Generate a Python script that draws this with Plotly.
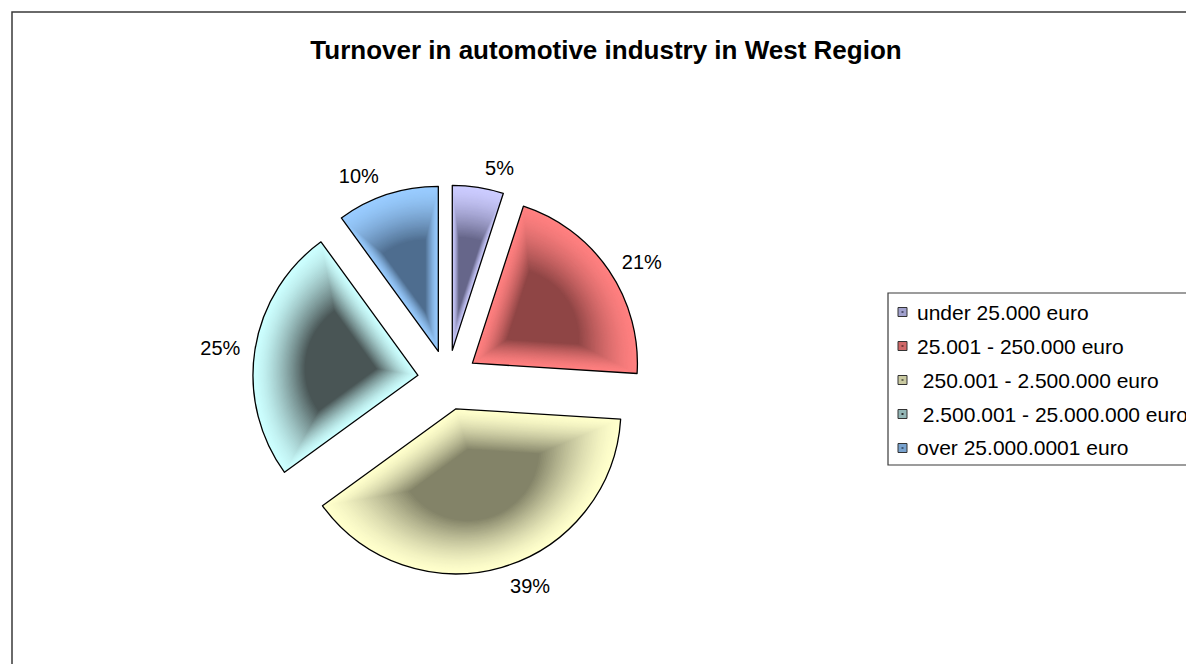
import plotly.graph_objects as go

# ---- data -------------------------------------------------------------
categories = [
    "under 25.000 euro",
    "25.001 - 250.000 euro",
    "\u00a0250.001 - 2.500.000 euro",
    "\u00a02.500.001 - 25.000.000 euro",
    "over 25.000.0001 euro",
]
shares = [5, 21, 39, 25, 10]  # percent of companies per turnover class
chart_title = "Turnover in automotive industry in West Region"

# ---- styling ----------------------------------------------------------
# light rim colour and dark core colour of each slice's shading
rim_colors = [(204, 204, 255), (255, 128, 128), (255, 255, 204), (204, 255, 255), (153, 204, 255)]
core_colors = [(80, 80, 112), (118, 56, 56), (104, 104, 82), (44, 48, 48), (62, 88, 118)]

W, H = 1186, 664
FONT = "Liberation Sans, Arial, sans-serif"
CX, CY = 447.6, 380.0      # pie centre (px)
R = 165.0                  # slice radius (px)
EXPLODE = 30.0             # slice offset from centre (px)
LABEL_GAP = 9.0            # extra distance of the percentage labels (px)
CORE_DEPTH = 0.45 * R      # where the shading converges along each bisector
S_MIN = (EXPLODE + CORE_DEPTH) / (R + CORE_DEPTH)   # smallest copy that pull<=1 allows
N_LAYERS = 44
SHADE_MAX = 0.82           # how far the innermost copy goes towards the core colour


def fx(x):
    return x / W


def fy(y):
    return 1 - y / H


def rgb(c):
    return "rgb(%d,%d,%d)" % tuple(int(round(v)) for v in c)


def blend(a, b, t):
    return tuple(a[i] * (1 - t) + b[i] * t for i in range(3))


def pie_copy(r, shift, colors, line=None, **kw):
    """Exploded pie with slice radius r (px) and slice offset shift (px)."""
    half = r + shift
    return go.Pie(
        values=shares,
        labels=categories,
        sort=False,
        direction="clockwise",
        rotation=0,
        pull=min(1.0, shift / r),
        domain=dict(x=[fx(CX - half), fx(CX + half)], y=[fy(CY + half), fy(CY - half)]),
        marker=dict(colors=colors, line=line or dict(width=0)),
        showlegend=False,
        **kw,
    )


fig = go.Figure()

# shaded slices: nested copies getting darker towards the slice cores
for k in range(N_LAYERS + 1):
    u = k / N_LAYERS
    s = 1 - u * (1 - S_MIN) + 1e-6
    t = SHADE_MAX * u ** 1.5
    cols = [rgb(blend(rim_colors[i], core_colors[i], t)) for i in range(len(shares))]
    fig.add_trace(pie_copy(R * s, EXPLODE + CORE_DEPTH * (1 - s), cols,
                           textinfo="none", hoverinfo="skip"))

# slice outlines
fig.add_trace(pie_copy(R, EXPLODE, ["rgba(0,0,0,0)"] * len(shares),
                       line=dict(color="#000000", width=1.3),
                       textinfo="none", hoverinfo="label+percent"))

# percentage labels, carried by an invisible, slightly larger copy
k_lab = (R + EXPLODE + LABEL_GAP) / (R + EXPLODE)
fig.add_trace(pie_copy(R * k_lab, EXPLODE * k_lab, ["rgba(0,0,0,0)"] * len(shares),
                       texttemplate="%{percent:.0%}",
                       textposition="outside",
                       textfont=dict(family=FONT, size=20, color="#000000"),
                       hoverinfo="skip"))

# ---- chart frame and legend ------------------------------------------
shapes = [
    dict(type="rect", xref="paper", yref="paper",
         x0=fx(12), x1=fx(1210), y0=fy(690), y1=fy(12),
         line=dict(color="#3a3a3a", width=1.5), fillcolor="rgba(0,0,0,0)", layer="below"),
    dict(type="rect", xref="paper", yref="paper",
         x0=fx(888), x1=fx(1210), y0=fy(465), y1=fy(293),
         line=dict(color="#3a3a3a", width=1.2), fillcolor="rgba(0,0,0,0)"),
]
annotations = []
LEG_TOP, LEG_STEP = 312, 34
for i, name in enumerate(categories):
    yc = LEG_TOP + i * LEG_STEP
    mid = blend(rim_colors[i], core_colors[i], 0.35)
    shapes.append(dict(type="rect", xref="paper", yref="paper",
                       x0=fx(898), x1=fx(907), y0=fy(yc + 4.5), y1=fy(yc - 4.5),
                       fillcolor=rgb(mid), line=dict(color="#333333", width=1)))
    shapes.append(dict(type="rect", xref="paper", yref="paper",
                       x0=fx(901.5), x1=fx(903.5), y0=fy(yc + 1), y1=fy(yc - 1),
                       fillcolor=rgb(core_colors[i]), line=dict(width=0)))
    annotations.append(dict(text=name, xref="paper", yref="paper",
                            x=fx(915), y=fy(yc), xanchor="left", yanchor="middle",
                            showarrow=False, font=dict(family=FONT, size=21, color="#000000")))

fig.update_layout(
    width=W, height=H,
    margin=dict(l=0, r=0, t=0, b=0, autoexpand=False),
    paper_bgcolor="#ffffff",
    plot_bgcolor="#ffffff",
    title=dict(text="<b>%s</b>" % chart_title, x=fx(606), y=fy(50),
               xanchor="center", yanchor="middle",
               font=dict(family=FONT, size=26, color="#000000")),
    shapes=shapes,
    annotations=annotations,
)

fig.write_html("out.html")
